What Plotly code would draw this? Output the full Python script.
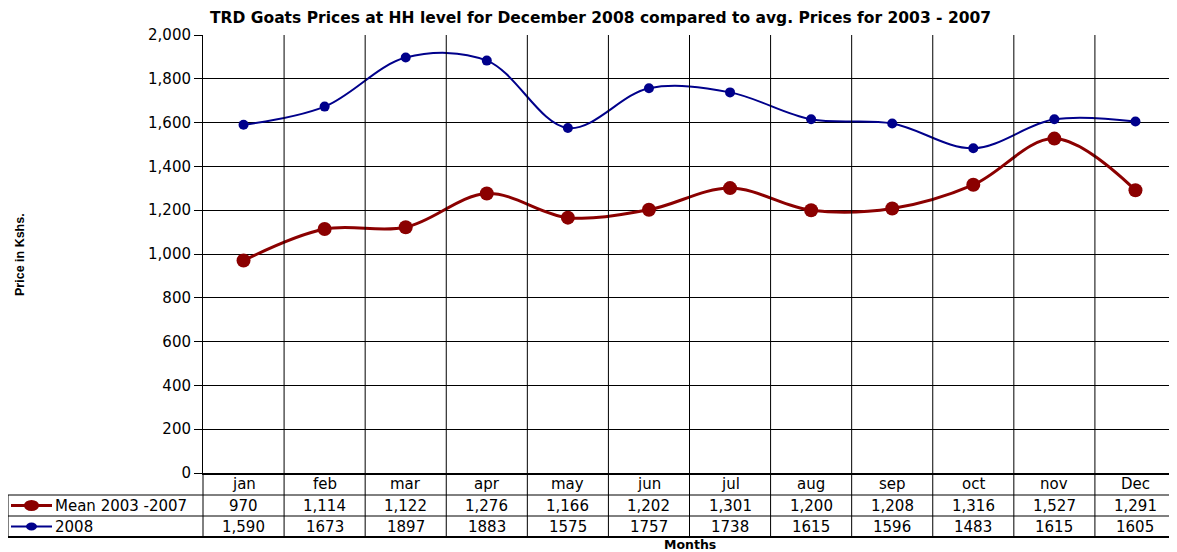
import plotly.graph_objects as go

months = ["jan", "feb", "mar", "apr", "may", "jun", "jul", "aug", "sep", "oct", "nov", "Dec"]
mean_0307 = [970, 1114, 1122, 1276, 1166, 1202, 1301, 1200, 1208, 1316, 1527, 1291]
y2008 = [1590, 1673, 1897, 1883, 1575, 1757, 1738, 1615, 1596, 1483, 1615, 1605]
mean_labels = ["970", "1,114", "1,122", "1,276", "1,166", "1,202", "1,301", "1,200", "1,208", "1,316", "1,527", "1,291"]
y2008_labels = ["1,590", "1673", "1897", "1883", "1575", "1757", "1738", "1615", "1596", "1483", "1615", "1605"]
series_names = ["Mean 2003 -2007", "2008"]

OFF = 8  # page body margin
W, H = 1177 - OFF, 552 - OFF
L = 203 - OFF
T = 35 - OFF
R = W - (1176 - OFF)
B = H - (473 - OFF)
PW = W - L - R
PH = H - T - B

def py(px):
    return (473 - px) / PH

def pxx(px):
    return (px - 203) / PW

RED = "#8B0000"
BLUE = "#00008B"
FONT = "DejaVu Sans, Liberation Sans, Arial, sans-serif"
FS = 15

def txt(x, y, text, xref="paper", size=FS, family=FONT, xanchor="center", **kw):
    return dict(x=x, y=y, xref=xref, yref="paper", text=text, showarrow=False,
                xanchor=xanchor, yanchor="middle",
                font=dict(size=size, color="#000", family=family), **kw)

xs = list(range(len(months)))
fig = go.Figure()
fig.add_trace(go.Scatter(x=xs, y=y2008, mode="lines+markers", name=series_names[1],
                         line=dict(color=BLUE, width=2, shape="spline", smoothing=1),
                         marker=dict(color=BLUE, size=10)))
fig.add_trace(go.Scatter(x=xs, y=mean_0307, mode="lines+markers", name=series_names[0],
                         line=dict(color=RED, width=3, shape="spline", smoothing=1),
                         marker=dict(color=RED, size=14)))

shapes = []
ann = []
for i in range(len(months) - 1):
    shapes.append(dict(type="line", xref="x", yref="paper", x0=i + 0.5, x1=i + 0.5,
                       y0=1, y1=py(537), line=dict(color="#000", width=1)))
for ypx in [495, 516]:
    shapes.append(dict(type="line", xref="paper", yref="paper", x0=pxx(8), x1=1,
                       y0=py(ypx), y1=py(ypx), line=dict(color="#000", width=1)))
shapes.append(dict(type="line", xref="paper", yref="paper", x0=pxx(8), x1=1,
                   y0=py(537), y1=py(537), line=dict(color="#000", width=2)))
shapes.append(dict(type="line", xref="paper", yref="paper", x0=pxx(8), x1=pxx(8),
                   y0=py(495), y1=py(537), line=dict(color="#000", width=1)))
shapes.append(dict(type="line", xref="paper", yref="paper", x0=0, x1=0,
                   y0=py(473), y1=py(537), line=dict(color="#000", width=1)))
shapes.append(dict(type="line", xref="paper", yref="paper", x0=1, x1=1,
                   y0=1, y1=py(537), line=dict(color="#000", width=1)))

row_y = [py(505.5), py(526.5)]
for i, m in enumerate(months):
    ann.append(txt(i, py(484), m, xref="x"))
    ann.append(txt(i, row_y[0], mean_labels[i], xref="x"))
    ann.append(txt(i, row_y[1], y2008_labels[i], xref="x"))

for r, (col, lw, ms, mw) in enumerate([(RED, 3, 11, 15), (BLUE, 2, 8, 11)]):
    yc = row_y[r]
    shapes.append(dict(type="line", xref="paper", yref="paper", x0=pxx(11), x1=pxx(52),
                       y0=yc, y1=yc, line=dict(color=col, width=lw)))
    shapes.append(dict(type="circle", xref="paper", yref="paper",
                       x0=pxx(31.5 - mw / 2), x1=pxx(31.5 + mw / 2),
                       y0=yc - ms / 2 / PH, y1=yc + ms / 2 / PH,
                       fillcolor=col, line=dict(color=col, width=0)))
    ann.append(txt(pxx(53), yc, series_names[r], xanchor="left"))

ann.append(txt(pxx(690), py(544.5), "<b>Months</b>", size=12.5))
ann.append(txt(pxx(20), py(255), "<b>Price in Kshs.</b>", size=12.5,
               family="Liberation Sans, Arial, sans-serif", textangle=-90))
ann.append(txt(pxx(600), py(18),
               "<b>TRD Goats Prices at HH level for December 2008 compared to avg. Prices for 2003 - 2007</b>",
               size=15.5))

fig.update_layout(
    width=W, height=H,
    margin=dict(l=L, r=R, t=T, b=B),
    paper_bgcolor="white", plot_bgcolor="white",
    showlegend=False,
    shapes=shapes, annotations=ann,
    font=dict(family=FONT, color="#000", size=FS),
    xaxis=dict(range=[-0.5, len(months) - 0.5], showgrid=False, showticklabels=False,
               zeroline=False, showline=True, linecolor="#000", linewidth=2, ticks=""),
    yaxis=dict(range=[0, 2000], dtick=200, tickformat=",", showgrid=True, gridcolor="#000",
               gridwidth=1, zeroline=False, showline=True, linecolor="#000", linewidth=1,
               ticks="outside", ticklen=8, tickcolor="#000", mirror=True,
               tickfont=dict(size=FS, color="#000", family=FONT)),
)
fig.write_html("out.html")
